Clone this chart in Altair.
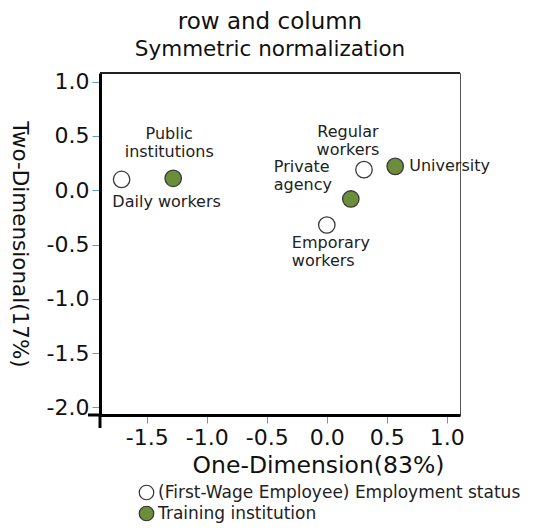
import altair as alt
import pandas as pd

# Data
labels = ["Daily workers", "Public institutions", "Regular workers", "University", "Private agency", "Emporary workers"]
dim1 = [-1.71, -1.28, 0.31, 0.57, 0.20, 0.00]
dim2 = [0.10, 0.11, 0.19, 0.22, -0.08, -0.32]
groups = ["(First-Wage Employee) Employment status", "Training institution",
          "(First-Wage Employee) Employment status", "Training institution",
          "Training institution", "(First-Wage Employee) Employment status"]
x_ticks = [-1.5, -1.0, -0.5, 0.0, 0.5, 1.0]
y_ticks = [1.0, 0.5, 0.0, -0.5, -1.0, -1.5, -2.0]
x_dom = [-1.89, 1.11]
y_dom = [-2.07, 1.08]

df = pd.DataFrame({"label": labels, "d1": dim1, "d2": dim2, "group": groups})

FONT = "DejaVu Sans"
LABEL_EXPR = "(datum.value < 0 ? '-' : '') + format(abs(datum.value), '.1f')"

xs = alt.Scale(domain=x_dom, nice=False, zero=False)
ys = alt.Scale(domain=y_dom, nice=False, zero=False)

base = alt.Chart(df)

points = base.mark_point(filled=True, size=270, strokeWidth=1.3, opacity=1, shape="circle").encode(
    x=alt.X("d1:Q", scale=xs, title="One-Dimension(83%)",
            axis=alt.Axis(values=x_ticks, labelExpr=LABEL_EXPR, grid=False, domainColor="black", domainWidth=3,
                          tickColor="#5b9bd5", tickSize=8, tickWidth=1, labelFontSize=22, labelPadding=4,
                          labelColor="#111", titleFontSize=23.5, titleFontWeight="normal", titleColor="#111",
                          titlePadding=5, titleX=218, labelFont=FONT, titleFont=FONT)),
    y=alt.Y("d2:Q", scale=ys, title="Two-Dimensional(17%)",
            axis=alt.Axis(values=y_ticks, labelExpr=LABEL_EXPR, grid=False, domainColor="black", domainWidth=3,
                          tickColor="#5b9bd5", tickSize=8, tickWidth=1, labelFontSize=22, labelPadding=3,
                          labelColor="#111", titleFontSize=21.5, titleFontWeight="normal", titleColor="#111",
                          titleAngle=90, titleX=-93, labelFont=FONT, titleFont=FONT)),
    fill=alt.Color("group:N",
                   scale=alt.Scale(domain=["(First-Wage Employee) Employment status", "Training institution"],
                                   range=["white", "#6b8e3a"]),
                   legend=alt.Legend(title=None, orient="none", legendX=38, legendY=411, direction="vertical",
                                     labelFont=FONT, labelFontSize=17, labelColor="#222", symbolSize=210,
                                     symbolStrokeWidth=1.2, symbolStrokeColor="#333", rowPadding=0,
                                     labelOffset=3, labelLimit=600)),
    stroke=alt.value("#3a3a3a"),
)

# axis-line overhang at the lower-left corner (cross-style axes)
corner = pd.DataFrame({"x0": [x_dom[0] - 0.1], "x1": [x_dom[0]], "y": [y_dom[0]]})
overhang_x = alt.Chart(corner).mark_rule(color="black", strokeWidth=3).encode(
    x=alt.X("x0:Q", scale=xs), x2="x1:Q", y=alt.Y("y:Q", scale=ys))
corner2 = pd.DataFrame({"x": [x_dom[0]], "y0": [y_dom[0] - 0.12], "y1": [y_dom[0]]})
overhang_y = alt.Chart(corner2).mark_rule(color="black", strokeWidth=3).encode(
    x=alt.X("x:Q", scale=xs), y=alt.Y("y0:Q", scale=ys), y2="y1:Q")
# darker top border
top_border = alt.Chart(corner).mark_rule(color="#222", strokeWidth=2).encode(
    x=alt.value(0), x2=alt.value(360), y=alt.value(0))


def lab(name, dx, dy, align="center"):
    split = name not in ("Daily workers", "University")
    return base.transform_filter(alt.datum.label == name).transform_calculate(
        txt="replace(datum.label, ' ', '\\n')" if split else "datum.label"
    ).mark_text(
        dx=dx, dy=dy, align=align, baseline="middle", font=FONT, fontSize=16, color="#222",
        lineBreak="\n", lineHeight=18
    ).encode(x=alt.X("d1:Q", scale=xs), y=alt.Y("d2:Q", scale=ys), text=alt.Text("txt:N"))


texts = [
    lab("Daily workers", 45, 23),
    lab("Public institutions", -4, -44),
    lab("Regular workers", -16, -38),
    lab("University", 14, 0, "left"),
    lab("Private agency", -77, -32, "left"),
    lab("Emporary workers", -35, 18, "left"),
]

chart = alt.layer(points, overhang_x, overhang_y, top_border, *texts).properties(
    width=360, height=342,
    title=alt.TitleParams("row  and  column", subtitle="Symmetric  normalization", font=FONT, fontSize=23,
                          fontWeight="normal", color="#111", subtitleFont=FONT, subtitleFontSize=21.5,
                          subtitleColor="#111", anchor="middle", offset=10, subtitlePadding=5, dx=-10),
    autosize=alt.AutoSizeParams(type="none"),
    padding={"left": 92, "top": 65, "right": 71, "bottom": 108},
).configure_view(stroke="#555", strokeWidth=1)

chart.save("out.html", embed_options={"renderer": "svg", "actions": False})
